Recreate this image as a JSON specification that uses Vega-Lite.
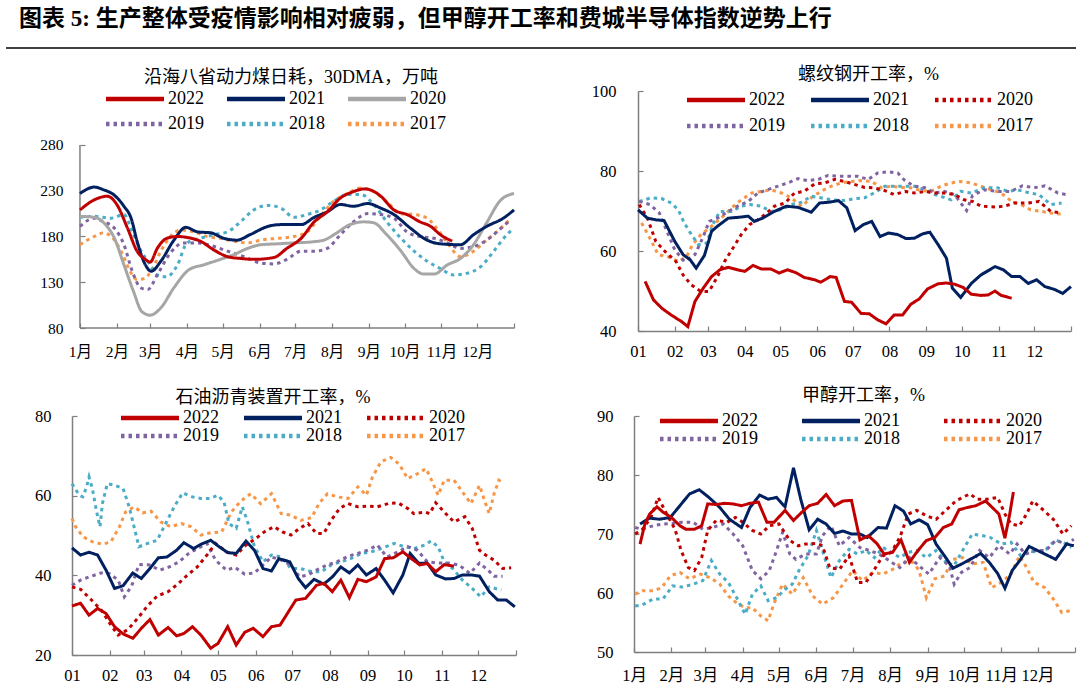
{
"$schema": "https://vega.github.io/schema/vega-lite/v6.json",
"padding": {"left": 5, "right": 5, "top": 8, "bottom": 0},
"background": "white",
"columns": 1,
"align": "none",
"spacing": 17,
"resolve": {"scale": {"color": "independent", "strokeDash": "independent"}, "legend": {"color": "independent", "strokeDash": "independent"}},
"config": {
  "view": {"stroke": null},
  "font": "Liberation Serif, Noto Sans CJK SC",
  "axis": {"grid": false, "domainColor": "#7f7f7f", "tickColor": "#7f7f7f", "labelColor": "#000000", "labelFont": "Liberation Serif, Noto Sans CJK SC", "tickSize": -5, "labelFlush": false, "labelOverlap": false, "labelBound": false, "domainWidth": 1.5, "tickWidth": 1.2},
  "legend": {"padding": 0, "labelFont": "Liberation Serif", "labelFontSize": 18, "labelColor": "#000000", "symbolType": "M-10,0H10", "symbolSize": 33.6, "symbolStrokeWidth": 4.5, "labelOffset": 24, "columns": 3, "orient": "none"},
  "title": {"font": "Liberation Serif, Noto Sans CJK SC", "fontWeight": "normal", "fontSize": 18, "color": "#000000", "frame": "group"}
},
"datasets": {
"coal": [
{"year":"2017","day":0,"v":171},{"year":"2017","day":12,"v":180},{"year":"2017","day":20,"v":184},{"year":"2017","day":29,"v":176},{"year":"2017","day":36,"v":160},{"year":"2017","day":41,"v":145},{"year":"2017","day":48,"v":133},{"year":"2017","day":54,"v":134},{"year":"2017","day":61,"v":145},{"year":"2017","day":68,"v":164},{"year":"2017","day":76,"v":180},{"year":"2017","day":85,"v":187},{"year":"2017","day":96,"v":185},{"year":"2017","day":107,"v":180},{"year":"2017","day":118,"v":178},{"year":"2017","day":129,"v":175},{"year":"2017","day":141,"v":173},{"year":"2017","day":152,"v":176},{"year":"2017","day":166,"v":178},{"year":"2017","day":180,"v":180},{"year":"2017","day":191,"v":185},{"year":"2017","day":202,"v":202},{"year":"2017","day":213,"v":218},{"year":"2017","day":225,"v":227},{"year":"2017","day":236,"v":233},{"year":"2017","day":247,"v":229},{"year":"2017","day":258,"v":218},{"year":"2017","day":270,"v":205},{"year":"2017","day":281,"v":204},{"year":"2017","day":292,"v":200},{"year":"2017","day":300,"v":189},{"year":"2017","day":309,"v":173},{"year":"2017","day":320,"v":158},{"year":"2017","day":331,"v":164},{"year":"2017","day":342,"v":176},{"year":"2017","day":354,"v":189},{"year":"2017","day":361,"v":198},
{"year":"2018","day":0,"v":201},{"year":"2018","day":12,"v":202},{"year":"2018","day":26,"v":200},{"year":"2018","day":37,"v":204},{"year":"2018","day":44,"v":185},{"year":"2018","day":51,"v":165},{"year":"2018","day":58,"v":151},{"year":"2018","day":65,"v":138},{"year":"2018","day":73,"v":136},{"year":"2018","day":82,"v":149},{"year":"2018","day":90,"v":173},{"year":"2018","day":101,"v":178},{"year":"2018","day":113,"v":182},{"year":"2018","day":124,"v":185},{"year":"2018","day":135,"v":196},{"year":"2018","day":146,"v":209},{"year":"2018","day":158,"v":214},{"year":"2018","day":169,"v":211},{"year":"2018","day":180,"v":201},{"year":"2018","day":191,"v":204},{"year":"2018","day":202,"v":209},{"year":"2018","day":213,"v":218},{"year":"2018","day":225,"v":226},{"year":"2018","day":236,"v":226},{"year":"2018","day":247,"v":215},{"year":"2018","day":258,"v":196},{"year":"2018","day":270,"v":178},{"year":"2018","day":281,"v":164},{"year":"2018","day":292,"v":153},{"year":"2018","day":303,"v":145},{"year":"2018","day":314,"v":138},{"year":"2018","day":326,"v":140},{"year":"2018","day":337,"v":147},{"year":"2018","day":348,"v":164},{"year":"2018","day":359,"v":182},{"year":"2018","day":363,"v":187},
{"year":"2019","day":0,"v":191},{"year":"2019","day":12,"v":200},{"year":"2019","day":20,"v":196},{"year":"2019","day":29,"v":189},{"year":"2019","day":37,"v":171},{"year":"2019","day":44,"v":142},{"year":"2019","day":51,"v":124},{"year":"2019","day":57,"v":122},{"year":"2019","day":65,"v":138},{"year":"2019","day":76,"v":162},{"year":"2019","day":87,"v":173},{"year":"2019","day":99,"v":173},{"year":"2019","day":113,"v":169},{"year":"2019","day":124,"v":164},{"year":"2019","day":138,"v":158},{"year":"2019","day":152,"v":151},{"year":"2019","day":163,"v":150},{"year":"2019","day":174,"v":155},{"year":"2019","day":186,"v":164},{"year":"2019","day":197,"v":164},{"year":"2019","day":208,"v":167},{"year":"2019","day":219,"v":182},{"year":"2019","day":230,"v":196},{"year":"2019","day":242,"v":205},{"year":"2019","day":253,"v":204},{"year":"2019","day":264,"v":200},{"year":"2019","day":275,"v":185},{"year":"2019","day":286,"v":180},{"year":"2019","day":298,"v":178},{"year":"2019","day":309,"v":173},{"year":"2019","day":320,"v":167},{"year":"2019","day":331,"v":169},{"year":"2019","day":342,"v":176},{"year":"2019","day":354,"v":189},{"year":"2019","day":362,"v":198},
{"year":"2020","day":0,"v":202},{"year":"2020","day":12,"v":201},{"year":"2020","day":20,"v":195},{"year":"2020","day":29,"v":178},{"year":"2020","day":37,"v":149},{"year":"2020","day":45,"v":120},{"year":"2020","day":52,"v":98},{"year":"2020","day":59,"v":94},{"year":"2020","day":68,"v":102},{"year":"2020","day":79,"v":124},{"year":"2020","day":92,"v":144},{"year":"2020","day":104,"v":149},{"year":"2020","day":118,"v":155},{"year":"2020","day":129,"v":160},{"year":"2020","day":141,"v":167},{"year":"2020","day":152,"v":171},{"year":"2020","day":166,"v":172},{"year":"2020","day":180,"v":173},{"year":"2020","day":194,"v":174},{"year":"2020","day":205,"v":176},{"year":"2020","day":216,"v":184},{"year":"2020","day":227,"v":193},{"year":"2020","day":239,"v":196},{"year":"2020","day":247,"v":195},{"year":"2020","day":258,"v":182},{"year":"2020","day":270,"v":164},{"year":"2020","day":281,"v":145},{"year":"2020","day":289,"v":139},{"year":"2020","day":298,"v":139},{"year":"2020","day":309,"v":149},{"year":"2020","day":320,"v":156},{"year":"2020","day":331,"v":171},{"year":"2020","day":342,"v":195},{"year":"2020","day":354,"v":220},{"year":"2020","day":365,"v":227},
{"year":"2021","day":0,"v":227},{"year":"2021","day":12,"v":234},{"year":"2021","day":20,"v":231},{"year":"2021","day":29,"v":225},{"year":"2021","day":37,"v":213},{"year":"2021","day":43,"v":200},{"year":"2021","day":48,"v":175},{"year":"2021","day":55,"v":149},{"year":"2021","day":60,"v":142},{"year":"2021","day":68,"v":153},{"year":"2021","day":79,"v":176},{"year":"2021","day":89,"v":190},{"year":"2021","day":99,"v":185},{"year":"2021","day":110,"v":184},{"year":"2021","day":121,"v":178},{"year":"2021","day":132,"v":176},{"year":"2021","day":143,"v":182},{"year":"2021","day":158,"v":191},{"year":"2021","day":169,"v":193},{"year":"2021","day":186,"v":193},{"year":"2021","day":197,"v":201},{"year":"2021","day":208,"v":207},{"year":"2021","day":219,"v":215},{"year":"2021","day":230,"v":213},{"year":"2021","day":242,"v":216},{"year":"2021","day":253,"v":211},{"year":"2021","day":264,"v":204},{"year":"2021","day":278,"v":189},{"year":"2021","day":292,"v":176},{"year":"2021","day":303,"v":172},{"year":"2021","day":320,"v":171},{"year":"2021","day":331,"v":182},{"year":"2021","day":342,"v":191},{"year":"2021","day":356,"v":200},{"year":"2021","day":365,"v":209},
{"year":"2022","day":0,"v":209},{"year":"2022","day":12,"v":220},{"year":"2022","day":23,"v":224},{"year":"2022","day":31,"v":215},{"year":"2022","day":40,"v":189},{"year":"2022","day":48,"v":164},{"year":"2022","day":55,"v":155},{"year":"2022","day":59,"v":152},{"year":"2022","day":65,"v":167},{"year":"2022","day":73,"v":178},{"year":"2022","day":82,"v":180},{"year":"2022","day":90,"v":179},{"year":"2022","day":101,"v":175},{"year":"2022","day":113,"v":165},{"year":"2022","day":124,"v":158},{"year":"2022","day":135,"v":156},{"year":"2022","day":146,"v":155},{"year":"2022","day":163,"v":157},{"year":"2022","day":174,"v":167},{"year":"2022","day":186,"v":178},{"year":"2022","day":197,"v":196},{"year":"2022","day":208,"v":207},{"year":"2022","day":219,"v":222},{"year":"2022","day":230,"v":229},{"year":"2022","day":239,"v":232},{"year":"2022","day":244,"v":231},{"year":"2022","day":253,"v":224},{"year":"2022","day":264,"v":209},{"year":"2022","day":275,"v":204},{"year":"2022","day":286,"v":196},{"year":"2022","day":295,"v":191},{"year":"2022","day":303,"v":182},{"year":"2022","day":313,"v":175}
],
"rebar": [
{"year":"2017","day":3,"v":67},{"year":"2017","day":10,"v":63.2},{"year":"2017","day":17,"v":59.1},{"year":"2017","day":25,"v":58.6},{"year":"2017","day":34,"v":57.4},{"year":"2017","day":41,"v":58.6},{"year":"2017","day":46,"v":61.6},{"year":"2017","day":53,"v":64.1},{"year":"2017","day":62,"v":66.2},{"year":"2017","day":70,"v":68.2},{"year":"2017","day":79,"v":70.8},{"year":"2017","day":87,"v":72.8},{"year":"2017","day":96,"v":74.5},{"year":"2017","day":104,"v":74.9},{"year":"2017","day":112,"v":75.3},{"year":"2017","day":121,"v":74.5},{"year":"2017","day":129,"v":73.3},{"year":"2017","day":138,"v":71.2},{"year":"2017","day":146,"v":73.3},{"year":"2017","day":154,"v":74.9},{"year":"2017","day":163,"v":76.2},{"year":"2017","day":171,"v":77},{"year":"2017","day":180,"v":77.4},{"year":"2017","day":188,"v":77.6},{"year":"2017","day":197,"v":77.4},{"year":"2017","day":205,"v":75.8},{"year":"2017","day":213,"v":76.2},{"year":"2017","day":222,"v":75.9},{"year":"2017","day":230,"v":75.8},{"year":"2017","day":239,"v":75.1},{"year":"2017","day":247,"v":74.9},{"year":"2017","day":256,"v":76.3},{"year":"2017","day":264,"v":77},{"year":"2017","day":272,"v":77.4},{"year":"2017","day":281,"v":77},{"year":"2017","day":289,"v":76.2},{"year":"2017","day":298,"v":75.3},{"year":"2017","day":306,"v":74.5},{"year":"2017","day":315,"v":72.4},{"year":"2017","day":323,"v":71.6},{"year":"2017","day":331,"v":70.3},{"year":"2017","day":340,"v":69.9},{"year":"2017","day":348,"v":69.5},{"year":"2017","day":357,"v":69.2},
{"year":"2018","day":1,"v":72.4},{"year":"2018","day":11,"v":73.3},{"year":"2018","day":20,"v":73.1},{"year":"2018","day":28,"v":72},{"year":"2018","day":34,"v":70.3},{"year":"2018","day":39,"v":67},{"year":"2018","day":45,"v":64.1},{"year":"2018","day":51,"v":61.6},{"year":"2018","day":58,"v":62},{"year":"2018","day":63,"v":66.6},{"year":"2018","day":69,"v":69.9},{"year":"2018","day":79,"v":69.9},{"year":"2018","day":87,"v":71.2},{"year":"2018","day":95,"v":71.6},{"year":"2018","day":104,"v":71.2},{"year":"2018","day":112,"v":69.9},{"year":"2018","day":121,"v":70.3},{"year":"2018","day":129,"v":71.6},{"year":"2018","day":138,"v":72.2},{"year":"2018","day":146,"v":73.7},{"year":"2018","day":154,"v":73.3},{"year":"2018","day":163,"v":72.8},{"year":"2018","day":174,"v":72.6},{"year":"2018","day":183,"v":73.1},{"year":"2018","day":191,"v":73.3},{"year":"2018","day":199,"v":74.5},{"year":"2018","day":208,"v":76.2},{"year":"2018","day":216,"v":76.2},{"year":"2018","day":225,"v":76.2},{"year":"2018","day":233,"v":76.2},{"year":"2018","day":242,"v":75.3},{"year":"2018","day":250,"v":74.1},{"year":"2018","day":258,"v":73.4},{"year":"2018","day":264,"v":72.8},{"year":"2018","day":272,"v":74.9},{"year":"2018","day":281,"v":74.5},{"year":"2018","day":292,"v":75.8},{"year":"2018","day":303,"v":75.8},{"year":"2018","day":312,"v":74.9},{"year":"2018","day":320,"v":75.3},{"year":"2018","day":330,"v":74.5},{"year":"2018","day":338,"v":74.1},{"year":"2018","day":348,"v":71.6},{"year":"2018","day":357,"v":72},
{"year":"2019","day":1,"v":72.4},{"year":"2019","day":10,"v":71.6},{"year":"2019","day":18,"v":69.5},{"year":"2019","day":25,"v":64.5},{"year":"2019","day":31,"v":60.3},{"year":"2019","day":39,"v":57.4},{"year":"2019","day":48,"v":59.1},{"year":"2019","day":55,"v":63.6},{"year":"2019","day":60,"v":67.4},{"year":"2019","day":67,"v":68.2},{"year":"2019","day":76,"v":69.9},{"year":"2019","day":84,"v":71.2},{"year":"2019","day":93,"v":72.4},{"year":"2019","day":101,"v":74.5},{"year":"2019","day":109,"v":75.3},{"year":"2019","day":118,"v":76.2},{"year":"2019","day":126,"v":77},{"year":"2019","day":135,"v":78.1},{"year":"2019","day":143,"v":77.6},{"year":"2019","day":152,"v":77.9},{"year":"2019","day":160,"v":78.9},{"year":"2019","day":169,"v":78.7},{"year":"2019","day":177,"v":78.7},{"year":"2019","day":185,"v":78.7},{"year":"2019","day":194,"v":77.9},{"year":"2019","day":202,"v":79.5},{"year":"2019","day":211,"v":79.8},{"year":"2019","day":219,"v":79.5},{"year":"2019","day":225,"v":77.6},{"year":"2019","day":233,"v":76.2},{"year":"2019","day":242,"v":75.8},{"year":"2019","day":250,"v":74.5},{"year":"2019","day":258,"v":74.9},{"year":"2019","day":267,"v":74.1},{"year":"2019","day":272,"v":72},{"year":"2019","day":277,"v":70.1},{"year":"2019","day":282,"v":73.9},{"year":"2019","day":292,"v":75.3},{"year":"2019","day":303,"v":74.9},{"year":"2019","day":314,"v":74.9},{"year":"2019","day":324,"v":76.3},{"year":"2019","day":334,"v":75.8},{"year":"2019","day":343,"v":76.3},{"year":"2019","day":354,"v":74.5},{"year":"2019","day":361,"v":74.1},
{"year":"2020","day":1,"v":71.6},{"year":"2020","day":8,"v":68.2},{"year":"2020","day":15,"v":62.4},{"year":"2020","day":24,"v":59.5},{"year":"2020","day":32,"v":57.4},{"year":"2020","day":38,"v":54},{"year":"2020","day":45,"v":51.5},{"year":"2020","day":53,"v":49.9},{"year":"2020","day":60,"v":49.9},{"year":"2020","day":67,"v":53.6},{"year":"2020","day":73,"v":57.4},{"year":"2020","day":80,"v":60.7},{"year":"2020","day":87,"v":64.1},{"year":"2020","day":94,"v":66.6},{"year":"2020","day":101,"v":67.8},{"year":"2020","day":107,"v":69.1},{"year":"2020","day":115,"v":71.2},{"year":"2020","day":124,"v":72},{"year":"2020","day":132,"v":74.5},{"year":"2020","day":140,"v":74.9},{"year":"2020","day":149,"v":76.8},{"year":"2020","day":157,"v":77},{"year":"2020","day":166,"v":77.9},{"year":"2020","day":174,"v":77.4},{"year":"2020","day":183,"v":76.6},{"year":"2020","day":191,"v":75.9},{"year":"2020","day":199,"v":75.8},{"year":"2020","day":208,"v":75.1},{"year":"2020","day":216,"v":74.1},{"year":"2020","day":225,"v":74.9},{"year":"2020","day":233,"v":74.5},{"year":"2020","day":242,"v":74.9},{"year":"2020","day":250,"v":74.5},{"year":"2020","day":258,"v":74.5},{"year":"2020","day":267,"v":74.1},{"year":"2020","day":275,"v":72.8},{"year":"2020","day":282,"v":72.4},{"year":"2020","day":289,"v":71.2},{"year":"2020","day":301,"v":71},{"year":"2020","day":309,"v":71.2},{"year":"2020","day":317,"v":72},{"year":"2020","day":329,"v":72},{"year":"2020","day":338,"v":72.4},{"year":"2020","day":348,"v":69.9},{"year":"2020","day":357,"v":69.5},
{"year":"2021","day":0,"v":70.3},{"year":"2021","day":8,"v":68.2},{"year":"2021","day":15,"v":67.8},{"year":"2021","day":22,"v":67.6},{"year":"2021","day":31,"v":62.4},{"year":"2021","day":38,"v":59.1},{"year":"2021","day":44,"v":57.8},{"year":"2021","day":49,"v":55.7},{"year":"2021","day":56,"v":58.9},{"year":"2021","day":62,"v":64.9},{"year":"2021","day":67,"v":66.2},{"year":"2021","day":76,"v":68.2},{"year":"2021","day":84,"v":68.4},{"year":"2021","day":93,"v":68.7},{"year":"2021","day":98,"v":67.4},{"year":"2021","day":105,"v":68.2},{"year":"2021","day":115,"v":69.9},{"year":"2021","day":125,"v":71.2},{"year":"2021","day":135,"v":70.9},{"year":"2021","day":146,"v":69.7},{"year":"2021","day":153,"v":72},{"year":"2021","day":161,"v":72.2},{"year":"2021","day":169,"v":72.6},{"year":"2021","day":176,"v":70.8},{"year":"2021","day":183,"v":65.1},{"year":"2021","day":190,"v":66.6},{"year":"2021","day":197,"v":67.4},{"year":"2021","day":204,"v":63.6},{"year":"2021","day":211,"v":64.5},{"year":"2021","day":219,"v":64.1},{"year":"2021","day":226,"v":63.1},{"year":"2021","day":233,"v":63.2},{"year":"2021","day":240,"v":64.3},{"year":"2021","day":246,"v":64.7},{"year":"2021","day":253,"v":61.6},{"year":"2021","day":260,"v":58.2},{"year":"2021","day":265,"v":50.7},{"year":"2021","day":272,"v":48.4},{"year":"2021","day":281,"v":51.9},{"year":"2021","day":289,"v":54},{"year":"2021","day":301,"v":56.1},{"year":"2021","day":308,"v":55.3},{"year":"2021","day":315,"v":53.6},{"year":"2021","day":322,"v":53.6},{"year":"2021","day":329,"v":51.9},{"year":"2021","day":336,"v":52.8},{"year":"2021","day":343,"v":51.1},{"year":"2021","day":351,"v":50.4},{"year":"2021","day":358,"v":49.4},{"year":"2021","day":365,"v":51.1},
{"year":"2022","day":6,"v":52.4},{"year":"2022","day":13,"v":47.8},{"year":"2022","day":20,"v":45.7},{"year":"2022","day":28,"v":44},{"year":"2022","day":37,"v":42.3},{"year":"2022","day":42,"v":41.1},{"year":"2022","day":48,"v":47.4},{"year":"2022","day":55,"v":50.7},{"year":"2022","day":62,"v":53.6},{"year":"2022","day":69,"v":55.3},{"year":"2022","day":76,"v":55.9},{"year":"2022","day":84,"v":55.3},{"year":"2022","day":90,"v":54.9},{"year":"2022","day":97,"v":56.4},{"year":"2022","day":104,"v":55.5},{"year":"2022","day":112,"v":55.5},{"year":"2022","day":119,"v":54.5},{"year":"2022","day":126,"v":55.3},{"year":"2022","day":133,"v":54.6},{"year":"2022","day":140,"v":53.4},{"year":"2022","day":149,"v":52.8},{"year":"2022","day":154,"v":52.2},{"year":"2022","day":162,"v":53.6},{"year":"2022","day":167,"v":53.4},{"year":"2022","day":174,"v":47.4},{"year":"2022","day":180,"v":47.2},{"year":"2022","day":188,"v":44.4},{"year":"2022","day":195,"v":44.3},{"year":"2022","day":202,"v":42.8},{"year":"2022","day":209,"v":41.8},{"year":"2022","day":216,"v":44},{"year":"2022","day":223,"v":44},{"year":"2022","day":230,"v":46.7},{"year":"2022","day":237,"v":48},{"year":"2022","day":244,"v":50.5},{"year":"2022","day":253,"v":51.8},{"year":"2022","day":260,"v":52},{"year":"2022","day":267,"v":51.7},{"year":"2022","day":274,"v":50.9},{"year":"2022","day":281,"v":49.2},{"year":"2022","day":289,"v":48.9},{"year":"2022","day":295,"v":49},{"year":"2022","day":301,"v":50},{"year":"2022","day":306,"v":48.9},{"year":"2022","day":315,"v":48.2}
],
"asphalt": [
{"year":"2017","day":0,"v":54.3},{"year":"2017","day":3,"v":52.2},{"year":"2017","day":9,"v":49.7},{"year":"2017","day":17,"v":48.4},{"year":"2017","day":25,"v":47.8},{"year":"2017","day":32,"v":48.4},{"year":"2017","day":39,"v":52.2},{"year":"2017","day":44,"v":55.9},{"year":"2017","day":51,"v":57.2},{"year":"2017","day":58,"v":55.7},{"year":"2017","day":65,"v":56.1},{"year":"2017","day":73,"v":53.4},{"year":"2017","day":81,"v":52.2},{"year":"2017","day":90,"v":53},{"year":"2017","day":98,"v":52.2},{"year":"2017","day":106,"v":50.1},{"year":"2017","day":114,"v":50.7},{"year":"2017","day":123,"v":50.9},{"year":"2017","day":131,"v":55.9},{"year":"2017","day":139,"v":58.7},{"year":"2017","day":147,"v":60.5},{"year":"2017","day":155,"v":58},{"year":"2017","day":164,"v":60.5},{"year":"2017","day":172,"v":55.5},{"year":"2017","day":180,"v":55.1},{"year":"2017","day":188,"v":53.8},{"year":"2017","day":197,"v":54.5},{"year":"2017","day":203,"v":58},{"year":"2017","day":210,"v":60.5},{"year":"2017","day":218,"v":59.7},{"year":"2017","day":227,"v":59.3},{"year":"2017","day":235,"v":62.2},{"year":"2017","day":242,"v":60.1},{"year":"2017","day":247,"v":64.7},{"year":"2017","day":254,"v":68.5},{"year":"2017","day":262,"v":69.6},{"year":"2017","day":269,"v":67.9},{"year":"2017","day":276,"v":64.3},{"year":"2017","day":284,"v":65.5},{"year":"2017","day":291,"v":66.8},{"year":"2017","day":295,"v":64.3},{"year":"2017","day":301,"v":60.1},{"year":"2017","day":306,"v":63.9},{"year":"2017","day":314,"v":63.9},{"year":"2017","day":321,"v":60.9},{"year":"2017","day":328,"v":58},{"year":"2017","day":335,"v":62.6},{"year":"2017","day":340,"v":58},{"year":"2017","day":343,"v":55.5},{"year":"2017","day":347,"v":60.5},{"year":"2017","day":351,"v":63.9},{"year":"2017","day":355,"v":63},
{"year":"2018","day":0,"v":63},{"year":"2018","day":6,"v":60.1},{"year":"2018","day":9,"v":59.7},{"year":"2018","day":12,"v":62.2},{"year":"2018","day":14,"v":64.7},{"year":"2018","day":17,"v":61.4},{"year":"2018","day":20,"v":56.3},{"year":"2018","day":23,"v":52.2},{"year":"2018","day":25,"v":58},{"year":"2018","day":29,"v":63},{"year":"2018","day":35,"v":62.6},{"year":"2018","day":42,"v":61.8},{"year":"2018","day":47,"v":57.2},{"year":"2018","day":51,"v":52.2},{"year":"2018","day":55,"v":47.2},{"year":"2018","day":62,"v":48},{"year":"2018","day":70,"v":48.8},{"year":"2018","day":77,"v":53},{"year":"2018","day":84,"v":57.2},{"year":"2018","day":91,"v":60.7},{"year":"2018","day":99,"v":59.7},{"year":"2018","day":106,"v":59.3},{"year":"2018","day":113,"v":59.3},{"year":"2018","day":120,"v":60.1},{"year":"2018","day":125,"v":58.4},{"year":"2018","day":129,"v":53},{"year":"2018","day":135,"v":51.8},{"year":"2018","day":140,"v":57.2},{"year":"2018","day":144,"v":53.8},{"year":"2018","day":150,"v":47.2},{"year":"2018","day":157,"v":43.4},{"year":"2018","day":164,"v":45.1},{"year":"2018","day":172,"v":44.6},{"year":"2018","day":180,"v":41.7},{"year":"2018","day":188,"v":41.7},{"year":"2018","day":197,"v":40.9},{"year":"2018","day":205,"v":40.9},{"year":"2018","day":213,"v":42.6},{"year":"2018","day":221,"v":43.4},{"year":"2018","day":229,"v":44.2},{"year":"2018","day":238,"v":45.5},{"year":"2018","day":246,"v":45.9},{"year":"2018","day":254,"v":46.7},{"year":"2018","day":265,"v":48},{"year":"2018","day":273,"v":47.2},{"year":"2018","day":281,"v":46.7},{"year":"2018","day":290,"v":47.6},{"year":"2018","day":295,"v":48.6},{"year":"2018","day":301,"v":47.2},{"year":"2018","day":306,"v":43.4},{"year":"2018","day":313,"v":41.7},{"year":"2018","day":321,"v":38.8},{"year":"2018","day":329,"v":36.7},{"year":"2018","day":336,"v":34.6},{"year":"2018","day":343,"v":37.1},{"year":"2018","day":353,"v":36.3},
{"year":"2019","day":0,"v":37.5},{"year":"2019","day":7,"v":38.8},{"year":"2019","day":16,"v":39.8},{"year":"2019","day":24,"v":40.6},{"year":"2019","day":31,"v":40.4},{"year":"2019","day":38,"v":38.8},{"year":"2019","day":43,"v":34.6},{"year":"2019","day":49,"v":37.3},{"year":"2019","day":55,"v":42.7},{"year":"2019","day":64,"v":42.6},{"year":"2019","day":72,"v":41.3},{"year":"2019","day":80,"v":42.1},{"year":"2019","day":88,"v":43.4},{"year":"2019","day":96,"v":45.5},{"year":"2019","day":103,"v":46.7},{"year":"2019","day":111,"v":48},{"year":"2019","day":118,"v":43.8},{"year":"2019","day":127,"v":41.3},{"year":"2019","day":134,"v":42},{"year":"2019","day":142,"v":40.3},{"year":"2019","day":150,"v":40.6},{"year":"2019","day":157,"v":42.6},{"year":"2019","day":164,"v":44.6},{"year":"2019","day":172,"v":43.8},{"year":"2019","day":180,"v":42.6},{"year":"2019","day":187,"v":39.6},{"year":"2019","day":194,"v":40.1},{"year":"2019","day":202,"v":41.5},{"year":"2019","day":210,"v":42.6},{"year":"2019","day":218,"v":43.4},{"year":"2019","day":227,"v":44.8},{"year":"2019","day":235,"v":45.5},{"year":"2019","day":243,"v":46.3},{"year":"2019","day":251,"v":47.6},{"year":"2019","day":259,"v":44.6},{"year":"2019","day":268,"v":45.9},{"year":"2019","day":276,"v":47.2},{"year":"2019","day":284,"v":46.3},{"year":"2019","day":292,"v":43.4},{"year":"2019","day":300,"v":43.1},{"year":"2019","day":309,"v":43.1},{"year":"2019","day":318,"v":42.6},{"year":"2019","day":327,"v":40.5},{"year":"2019","day":335,"v":43.1},{"year":"2019","day":342,"v":41.3},{"year":"2019","day":347,"v":39.8},{"year":"2019","day":354,"v":39.8},
{"year":"2020","day":0,"v":37.1},{"year":"2020","day":7,"v":36.5},{"year":"2020","day":16,"v":33.8},{"year":"2020","day":24,"v":31.3},{"year":"2020","day":32,"v":27.5},{"year":"2020","day":38,"v":25},{"year":"2020","day":46,"v":26.4},{"year":"2020","day":54,"v":29.2},{"year":"2020","day":62,"v":32.3},{"year":"2020","day":70,"v":34.8},{"year":"2020","day":79,"v":35.9},{"year":"2020","day":87,"v":37.8},{"year":"2020","day":95,"v":40.1},{"year":"2020","day":103,"v":42.1},{"year":"2020","day":112,"v":45.5},{"year":"2020","day":118,"v":48},{"year":"2020","day":127,"v":45.9},{"year":"2020","day":135,"v":45.1},{"year":"2020","day":143,"v":47.6},{"year":"2020","day":151,"v":49.2},{"year":"2020","day":158,"v":50.9},{"year":"2020","day":166,"v":52.2},{"year":"2020","day":173,"v":50.9},{"year":"2020","day":180,"v":50.1},{"year":"2020","day":187,"v":51.8},{"year":"2020","day":194,"v":53},{"year":"2020","day":201,"v":50.5},{"year":"2020","day":207,"v":50.5},{"year":"2020","day":213,"v":53.8},{"year":"2020","day":220,"v":56.8},{"year":"2020","day":227,"v":58},{"year":"2020","day":235,"v":57.2},{"year":"2020","day":243,"v":57.4},{"year":"2020","day":251,"v":57.2},{"year":"2020","day":260,"v":58},{"year":"2020","day":268,"v":58.2},{"year":"2020","day":276,"v":56.8},{"year":"2020","day":281,"v":55.5},{"year":"2020","day":290,"v":55.9},{"year":"2020","day":294,"v":55.5},{"year":"2020","day":299,"v":58.2},{"year":"2020","day":306,"v":55.9},{"year":"2020","day":314,"v":53.4},{"year":"2020","day":323,"v":54.7},{"year":"2020","day":329,"v":51.8},{"year":"2020","day":335,"v":46.3},{"year":"2020","day":340,"v":45.1},{"year":"2020","day":347,"v":43.8},{"year":"2020","day":354,"v":41.7},{"year":"2020","day":361,"v":41.9},
{"year":"2021","day":0,"v":46.9},{"year":"2021","day":7,"v":45.1},{"year":"2021","day":14,"v":45.8},{"year":"2021","day":21,"v":45.1},{"year":"2021","day":28,"v":41.3},{"year":"2021","day":35,"v":36.7},{"year":"2021","day":42,"v":37.4},{"year":"2021","day":50,"v":40.6},{"year":"2021","day":57,"v":39.2},{"year":"2021","day":64,"v":41.7},{"year":"2021","day":71,"v":44.4},{"year":"2021","day":78,"v":44.6},{"year":"2021","day":86,"v":46.3},{"year":"2021","day":92,"v":48.2},{"year":"2021","day":100,"v":46.7},{"year":"2021","day":106,"v":47.8},{"year":"2021","day":114,"v":48.8},{"year":"2021","day":120,"v":47.4},{"year":"2021","day":128,"v":45.7},{"year":"2021","day":135,"v":45.5},{"year":"2021","day":143,"v":48.6},{"year":"2021","day":150,"v":46.3},{"year":"2021","day":157,"v":41.7},{"year":"2021","day":164,"v":41.1},{"year":"2021","day":170,"v":44.2},{"year":"2021","day":179,"v":43.4},{"year":"2021","day":186,"v":39.2},{"year":"2021","day":192,"v":36.9},{"year":"2021","day":199,"v":39},{"year":"2021","day":207,"v":37.8},{"year":"2021","day":214,"v":39.6},{"year":"2021","day":221,"v":42.1},{"year":"2021","day":228,"v":40.6},{"year":"2021","day":235,"v":42.6},{"year":"2021","day":242,"v":40.1},{"year":"2021","day":250,"v":41.7},{"year":"2021","day":257,"v":38.8},{"year":"2021","day":264,"v":35.6},{"year":"2021","day":272,"v":40.1},{"year":"2021","day":278,"v":45.5},{"year":"2021","day":285,"v":43},{"year":"2021","day":292,"v":43.1},{"year":"2021","day":299,"v":40.1},{"year":"2021","day":307,"v":39.1},{"year":"2021","day":314,"v":39.2},{"year":"2021","day":321,"v":40.1},{"year":"2021","day":328,"v":40.1},{"year":"2021","day":335,"v":39.8},{"year":"2021","day":343,"v":35.9},{"year":"2021","day":350,"v":33.8},{"year":"2021","day":357,"v":33.8},{"year":"2021","day":364,"v":32.1},
{"year":"2022","day":0,"v":32.3},{"year":"2022","day":7,"v":33},{"year":"2022","day":14,"v":30},{"year":"2022","day":21,"v":31.7},{"year":"2022","day":28,"v":30.4},{"year":"2022","day":35,"v":27.1},{"year":"2022","day":42,"v":25.3},{"year":"2022","day":50,"v":24.2},{"year":"2022","day":57,"v":26.7},{"year":"2022","day":64,"v":28.9},{"year":"2022","day":71,"v":25},{"year":"2022","day":79,"v":26.9},{"year":"2022","day":86,"v":24.8},{"year":"2022","day":92,"v":25.4},{"year":"2022","day":99,"v":27.1},{"year":"2022","day":106,"v":25},{"year":"2022","day":114,"v":21.7},{"year":"2022","day":120,"v":22.9},{"year":"2022","day":128,"v":27.1},{"year":"2022","day":135,"v":22.5},{"year":"2022","day":142,"v":25.7},{"year":"2022","day":149,"v":26.7},{"year":"2022","day":157,"v":24.6},{"year":"2022","day":164,"v":27.1},{"year":"2022","day":171,"v":27.5},{"year":"2022","day":177,"v":30.4},{"year":"2022","day":184,"v":33.8},{"year":"2022","day":192,"v":34.2},{"year":"2022","day":201,"v":37.5},{"year":"2022","day":207,"v":38},{"year":"2022","day":214,"v":35.9},{"year":"2022","day":221,"v":38.8},{"year":"2022","day":228,"v":34.4},{"year":"2022","day":235,"v":39},{"year":"2022","day":242,"v":38.4},{"year":"2022","day":250,"v":39.6},{"year":"2022","day":257,"v":44.2},{"year":"2022","day":264,"v":44.4},{"year":"2022","day":272,"v":45.9},{"year":"2022","day":279,"v":44.2},{"year":"2022","day":286,"v":42.6},{"year":"2022","day":292,"v":43},{"year":"2022","day":299,"v":40.9},{"year":"2022","day":306,"v":42.7},{"year":"2022","day":314,"v":42.3}
],
"methanol": [
{"year":"2017","day":1,"v":59.8},{"year":"2017","day":7,"v":60.4},{"year":"2017","day":16,"v":60.4},{"year":"2017","day":23,"v":60.9},{"year":"2017","day":30,"v":62.9},{"year":"2017","day":38,"v":63.5},{"year":"2017","day":46,"v":62.4},{"year":"2017","day":55,"v":63.2},{"year":"2017","day":63,"v":62.6},{"year":"2017","day":71,"v":61.5},{"year":"2017","day":78,"v":59.5},{"year":"2017","day":85,"v":58.3},{"year":"2017","day":92,"v":57.5},{"year":"2017","day":98,"v":57.5},{"year":"2017","day":105,"v":56.1},{"year":"2017","day":111,"v":55.3},{"year":"2017","day":116,"v":58.3},{"year":"2017","day":123,"v":61.5},{"year":"2017","day":131,"v":59.8},{"year":"2017","day":140,"v":62.6},{"year":"2017","day":148,"v":59.5},{"year":"2017","day":156,"v":58.1},{"year":"2017","day":165,"v":59.2},{"year":"2017","day":173,"v":61.5},{"year":"2017","day":181,"v":63.8},{"year":"2017","day":189,"v":62.1},{"year":"2017","day":198,"v":63.5},{"year":"2017","day":206,"v":63.2},{"year":"2017","day":214,"v":64},{"year":"2017","day":222,"v":65.2},{"year":"2017","day":231,"v":65.2},{"year":"2017","day":236,"v":63.8},{"year":"2017","day":242,"v":59.2},{"year":"2017","day":249,"v":62.4},{"year":"2017","day":257,"v":62.9},{"year":"2017","day":264,"v":65.7},{"year":"2017","day":272,"v":66},{"year":"2017","day":280,"v":64.9},{"year":"2017","day":289,"v":65.2},{"year":"2017","day":296,"v":60.9},{"year":"2017","day":304,"v":61.8},{"year":"2017","day":312,"v":63.2},{"year":"2017","day":319,"v":66.3},{"year":"2017","day":325,"v":64.3},{"year":"2017","day":331,"v":61.8},{"year":"2017","day":340,"v":60.9},{"year":"2017","day":347,"v":59},{"year":"2017","day":354,"v":56.7},{"year":"2017","day":361,"v":57},{"year":"2017","day":363,"v":57.3},
{"year":"2018","day":1,"v":57.8},{"year":"2018","day":7,"v":58},{"year":"2018","day":16,"v":59},{"year":"2018","day":24,"v":59},{"year":"2018","day":32,"v":61.2},{"year":"2018","day":40,"v":61},{"year":"2018","day":49,"v":61.5},{"year":"2018","day":57,"v":62.1},{"year":"2018","day":64,"v":65.5},{"year":"2018","day":71,"v":63.2},{"year":"2018","day":78,"v":61.8},{"year":"2018","day":85,"v":59.2},{"year":"2018","day":92,"v":56.4},{"year":"2018","day":98,"v":59.8},{"year":"2018","day":105,"v":61.2},{"year":"2018","day":111,"v":58.7},{"year":"2018","day":118,"v":59.2},{"year":"2018","day":125,"v":60.6},{"year":"2018","day":131,"v":61.5},{"year":"2018","day":137,"v":64},{"year":"2018","day":144,"v":66.3},{"year":"2018","day":151,"v":70.6},{"year":"2018","day":156,"v":67.2},{"year":"2018","day":163,"v":62.6},{"year":"2018","day":170,"v":65.5},{"year":"2018","day":178,"v":67.4},{"year":"2018","day":185,"v":66.6},{"year":"2018","day":192,"v":67.2},{"year":"2018","day":199,"v":66},{"year":"2018","day":206,"v":67.7},{"year":"2018","day":213,"v":66.9},{"year":"2018","day":220,"v":66},{"year":"2018","day":227,"v":66.9},{"year":"2018","day":234,"v":67.2},{"year":"2018","day":242,"v":66},{"year":"2018","day":250,"v":67.2},{"year":"2018","day":257,"v":65.5},{"year":"2018","day":264,"v":64.3},{"year":"2018","day":272,"v":67.2},{"year":"2018","day":280,"v":70},{"year":"2018","day":289,"v":69.7},{"year":"2018","day":295,"v":69.4},{"year":"2018","day":304,"v":68.3},{"year":"2018","day":312,"v":68.6},{"year":"2018","day":320,"v":66.3},{"year":"2018","day":326,"v":67.2},{"year":"2018","day":333,"v":66.9},{"year":"2018","day":341,"v":67.4},{"year":"2018","day":349,"v":69},{"year":"2018","day":358,"v":68.3},{"year":"2018","day":362,"v":67.7},
{"year":"2019","day":1,"v":71.1},{"year":"2019","day":7,"v":70.8},{"year":"2019","day":16,"v":71.4},{"year":"2019","day":24,"v":71.7},{"year":"2019","day":32,"v":71.8},{"year":"2019","day":40,"v":72},{"year":"2019","day":49,"v":72},{"year":"2019","day":57,"v":70.8},{"year":"2019","day":65,"v":71.1},{"year":"2019","day":74,"v":71.7},{"year":"2019","day":82,"v":70},{"year":"2019","day":90,"v":68},{"year":"2019","day":98,"v":63.8},{"year":"2019","day":105,"v":62.4},{"year":"2019","day":112,"v":63.8},{"year":"2019","day":118,"v":67.2},{"year":"2019","day":123,"v":70.3},{"year":"2019","day":129,"v":66.6},{"year":"2019","day":134,"v":65.7},{"year":"2019","day":142,"v":66.6},{"year":"2019","day":151,"v":66.6},{"year":"2019","day":156,"v":69.7},{"year":"2019","day":163,"v":71.4},{"year":"2019","day":170,"v":68},{"year":"2019","day":178,"v":69.4},{"year":"2019","day":187,"v":67.7},{"year":"2019","day":195,"v":67.2},{"year":"2019","day":203,"v":66.6},{"year":"2019","day":211,"v":65.5},{"year":"2019","day":220,"v":64.3},{"year":"2019","day":228,"v":66},{"year":"2019","day":236,"v":64.6},{"year":"2019","day":244,"v":63.2},{"year":"2019","day":253,"v":66},{"year":"2019","day":261,"v":64.6},{"year":"2019","day":265,"v":61.5},{"year":"2019","day":271,"v":63.5},{"year":"2019","day":278,"v":64.3},{"year":"2019","day":286,"v":67.2},{"year":"2019","day":294,"v":66},{"year":"2019","day":302,"v":68},{"year":"2019","day":311,"v":66.6},{"year":"2019","day":317,"v":68.3},{"year":"2019","day":324,"v":66.6},{"year":"2019","day":333,"v":67.2},{"year":"2019","day":341,"v":67.2},{"year":"2019","day":349,"v":68.9},{"year":"2019","day":358,"v":68.3},{"year":"2019","day":364,"v":69.1},
{"year":"2020","day":1,"v":70},{"year":"2020","day":7,"v":70.8},{"year":"2020","day":14,"v":72.8},{"year":"2020","day":20,"v":76.2},{"year":"2020","day":27,"v":73.4},{"year":"2020","day":34,"v":70.8},{"year":"2020","day":39,"v":67.2},{"year":"2020","day":45,"v":64.3},{"year":"2020","day":50,"v":63.8},{"year":"2020","day":56,"v":66},{"year":"2020","day":61,"v":70.6},{"year":"2020","day":68,"v":72.3},{"year":"2020","day":77,"v":72},{"year":"2020","day":84,"v":72.8},{"year":"2020","day":90,"v":72},{"year":"2020","day":98,"v":70.6},{"year":"2020","day":105,"v":70},{"year":"2020","day":112,"v":71.4},{"year":"2020","day":120,"v":71.7},{"year":"2020","day":129,"v":68.9},{"year":"2020","day":136,"v":68},{"year":"2020","day":142,"v":68.3},{"year":"2020","day":151,"v":68.4},{"year":"2020","day":156,"v":68},{"year":"2020","day":162,"v":64.3},{"year":"2020","day":170,"v":64},{"year":"2020","day":178,"v":66.3},{"year":"2020","day":185,"v":61.8},{"year":"2020","day":192,"v":61.8},{"year":"2020","day":199,"v":64},{"year":"2020","day":206,"v":66.3},{"year":"2020","day":213,"v":66.9},{"year":"2020","day":220,"v":69.4},{"year":"2020","day":227,"v":73.4},{"year":"2020","day":234,"v":74},{"year":"2020","day":242,"v":73.1},{"year":"2020","day":250,"v":72.5},{"year":"2020","day":258,"v":74},{"year":"2020","day":267,"v":75.7},{"year":"2020","day":278,"v":76.8},{"year":"2020","day":284,"v":75.9},{"year":"2020","day":292,"v":75.9},{"year":"2020","day":301,"v":76.2},{"year":"2020","day":307,"v":73.4},{"year":"2020","day":312,"v":71.7},{"year":"2020","day":319,"v":71.4},{"year":"2020","day":325,"v":73.4},{"year":"2020","day":330,"v":75.6},{"year":"2020","day":338,"v":74.2},{"year":"2020","day":347,"v":72.5},{"year":"2020","day":355,"v":70},{"year":"2020","day":362,"v":71.4},
{"year":"2021","day":5,"v":71.7},{"year":"2021","day":13,"v":72.7},{"year":"2021","day":21,"v":72.5},{"year":"2021","day":30,"v":72.8},{"year":"2021","day":38,"v":74.8},{"year":"2021","day":46,"v":76.8},{"year":"2021","day":54,"v":77.5},{"year":"2021","day":62,"v":76.2},{"year":"2021","day":71,"v":74.5},{"year":"2021","day":79,"v":72.5},{"year":"2021","day":89,"v":71.1},{"year":"2021","day":96,"v":74.5},{"year":"2021","day":104,"v":76.6},{"year":"2021","day":111,"v":75.9},{"year":"2021","day":118,"v":76.2},{"year":"2021","day":125,"v":74.6},{"year":"2021","day":132,"v":81.2},{"year":"2021","day":138,"v":75.9},{"year":"2021","day":145,"v":70.7},{"year":"2021","day":152,"v":72.5},{"year":"2021","day":159,"v":71.7},{"year":"2021","day":166,"v":70.1},{"year":"2021","day":173,"v":70.5},{"year":"2021","day":180,"v":70},{"year":"2021","day":187,"v":70},{"year":"2021","day":193,"v":69.4},{"year":"2021","day":202,"v":71.1},{"year":"2021","day":209,"v":71},{"year":"2021","day":216,"v":74.8},{"year":"2021","day":223,"v":73.9},{"year":"2021","day":229,"v":71.7},{"year":"2021","day":236,"v":72.4},{"year":"2021","day":243,"v":71.6},{"year":"2021","day":250,"v":68.3},{"year":"2021","day":257,"v":66.3},{"year":"2021","day":264,"v":64.2},{"year":"2021","day":272,"v":65},{"year":"2021","day":280,"v":65.9},{"year":"2021","day":287,"v":66.7},{"year":"2021","day":294,"v":65.2},{"year":"2021","day":301,"v":63.3},{"year":"2021","day":307,"v":60.8},{"year":"2021","day":313,"v":63.8},{"year":"2021","day":320,"v":65.7},{"year":"2021","day":327,"v":67.9},{"year":"2021","day":334,"v":67.2},{"year":"2021","day":341,"v":66.5},{"year":"2021","day":349,"v":65.7},{"year":"2021","day":358,"v":68.3},{"year":"2021","day":364,"v":68},
{"year":"2022","day":5,"v":68.3},{"year":"2022","day":9,"v":71.7},{"year":"2022","day":13,"v":73.4},{"year":"2022","day":19,"v":74.6},{"year":"2022","day":24,"v":73.7},{"year":"2022","day":31,"v":72.8},{"year":"2022","day":38,"v":71.4},{"year":"2022","day":43,"v":70.8},{"year":"2022","day":50,"v":70.8},{"year":"2022","day":56,"v":71.4},{"year":"2022","day":61,"v":75.1},{"year":"2022","day":68,"v":75},{"year":"2022","day":75,"v":75.2},{"year":"2022","day":82,"v":75.1},{"year":"2022","day":89,"v":74.8},{"year":"2022","day":96,"v":75.2},{"year":"2022","day":103,"v":75.4},{"year":"2022","day":110,"v":72},{"year":"2022","day":116,"v":72},{"year":"2022","day":125,"v":74},{"year":"2022","day":132,"v":72.3},{"year":"2022","day":139,"v":73.7},{"year":"2022","day":145,"v":74.8},{"year":"2022","day":152,"v":75.2},{"year":"2022","day":159,"v":76.7},{"year":"2022","day":166,"v":74.8},{"year":"2022","day":173,"v":75.6},{"year":"2022","day":180,"v":75.7},{"year":"2022","day":187,"v":69},{"year":"2022","day":194,"v":69.7},{"year":"2022","day":201,"v":68.4},{"year":"2022","day":207,"v":66.6},{"year":"2022","day":214,"v":66.9},{"year":"2022","day":221,"v":69},{"year":"2022","day":228,"v":65.2},{"year":"2022","day":235,"v":67.2},{"year":"2022","day":242,"v":68.9},{"year":"2022","day":249,"v":69.4},{"year":"2022","day":256,"v":71.1},{"year":"2022","day":263,"v":71.7},{"year":"2022","day":269,"v":74.1},{"year":"2022","day":276,"v":74.5},{"year":"2022","day":283,"v":74.8},{"year":"2022","day":291,"v":75.6},{"year":"2022","day":298,"v":74.2},{"year":"2022","day":302,"v":73.4},{"year":"2022","day":307,"v":69.3},{"year":"2022","day":311,"v":73.4},{"year":"2022","day":314,"v":77.1}
]
},
"concat": [
{
  "width": 1070, "height": 1,
  "title": {"text": "图表 5: 生产整体受疫情影响相对疲弱，但甲醇开工率和费城半导体指数逆势上行", "anchor": "start", "frame": "group", "fontSize": 23, "fontWeight": "bold", "font": "Liberation Serif, Noto Sans CJK SC", "offset": 16, "dx": 13},
  "data": {"values": [{"y": 1}]},
  "mark": {"type": "rule", "color": "#000000", "strokeWidth": 1.5},
  "encoding": {"y": {"field": "y", "type": "quantitative", "scale": {"domain": [0, 1]}, "axis": null}}
},
{
  "spacing": 0,
  "resolve": {"scale": {"color": "independent", "strokeDash": "independent"}, "legend": {"color": "independent", "strokeDash": "independent"}},
  "hconcat": [
  {
    "width": 1, "height": 1,
    "data": {"values": [{"a": 0}]},
    "mark": {"type": "rule", "opacity": 0},
    "encoding": {"y": {"field": "a", "type": "quantitative", "axis": null}}
  },
  {
  "spacing": 27,
  "resolve": {"scale": {"color": "independent", "strokeDash": "independent"}, "legend": {"color": "independent", "strokeDash": "independent"}},
  "vconcat": [
  {
    "spacing": 58,
    "resolve": {"scale": {"color": "independent", "strokeDash": "independent"}, "legend": {"color": "independent", "strokeDash": "independent"}},
    "hconcat": [
    {
      "width": 442, "height": 237,
      "title": {"text": "沿海八省动力煤日耗，30DMA，万吨", "offset": 3, "dx": -2},
      "layer": [
        {
          "data": {"values": [{"k": 1}]},
          "mark": {"type": "rule", "color": "#7f7f7f", "strokeWidth": 1.5},
          "encoding": {
            "x": {"datum": 0, "type": "quantitative", "axis": {"title": null, "domain": false, "labelOverlap": false, "values": [0,31,59,90,120,151,181,212,243,273,304,334,365], "labelExpr": "datum.value >= 365 ? '' : ['1月','2月','3月','4月','5月','6月','7月','8月','9月','10月','11月','12月'][indexof([0,31,59,90,120,151,181,212,243,273,304,334], datum.value)]", "labelFontSize": 15.5, "labelPadding": 21}},
            "y": {"datum": 80, "type": "quantitative", "axis": {"title": null, "domain": false, "labelOverlap": false, "offset": -8, "values": [80,130,180,230,280], "labelFontSize": 15.5, "labelPadding": 22, "minExtent": 65}},
            "y2": {"datum": 280}
          }
        },
        {
          "data": {"values": [{"k": 1}]},
          "mark": {"type": "rule", "color": "#7f7f7f", "strokeWidth": 1.5},
          "encoding": {
            "y": {"datum": 80, "type": "quantitative", "axis": {"title": null, "domain": false, "labelOverlap": false, "offset": -8, "values": [80,130,180,230,280], "labelFontSize": 15.5, "labelPadding": 22, "minExtent": 65}},
            "x": {"datum": 0, "type": "quantitative", "axis": {"title": null, "domain": false, "labelOverlap": false, "values": [0,31,59,90,120,151,181,212,243,273,304,334,365], "labelExpr": "datum.value >= 365 ? '' : ['1月','2月','3月','4月','5月','6月','7月','8月','9月','10月','11月','12月'][indexof([0,31,59,90,120,151,181,212,243,273,304,334], datum.value)]", "labelFontSize": 15.5, "labelPadding": 21}},
            "x2": {"datum": 365}
          }
        },
        {
          "data": {"name": "coal"},
          "mark": {"type": "line", "strokeWidth": 3, "interpolate": "monotone"},
          "encoding": {
            "x": {"field": "day", "type": "quantitative", "scale": {"domain": [-6.7, 365], "nice": false, "zero": false}, "axis": {"title": null, "domain": false, "labelOverlap": false, "values": [0,31,59,90,120,151,181,212,243,273,304,334,365], "labelExpr": "datum.value >= 365 ? '' : ['1月','2月','3月','4月','5月','6月','7月','8月','9月','10月','11月','12月'][indexof([0,31,59,90,120,151,181,212,243,273,304,334], datum.value)]", "labelFontSize": 15.5, "labelPadding": 21}},
            "y": {"field": "v", "type": "quantitative", "scale": {"domain": [80, 339], "nice": false, "zero": false}, "axis": {"title": null, "domain": false, "labelOverlap": false, "offset": -8, "values": [80,130,180,230,280], "labelFontSize": 15.5, "labelPadding": 22, "minExtent": 65}},
            "color": {"field": "year", "type": "nominal", "scale": {"domain": ["2022","2019","2021","2018","2020","2017"], "range": ["#C00000","#8064A2","#002060","#4BACC6","#A6A6A6","#F79646"]}, "legend": {"title": null, "orient": "none", "legendX": 54, "legendY": -1, "columns": 3, "columnPadding": 14, "rowPadding": 7}},
            "strokeDash": {"field": "year", "type": "nominal", "scale": {"domain": ["2022","2019","2021","2018","2020","2017"], "range": [[1,0],[3.5,4],[1,0],[3.5,4],[1,0],[3.5,4]]}, "legend": {"title": null, "orient": "none", "legendX": 54, "legendY": -1, "columns": 3, "columnPadding": 14, "rowPadding": 7}}
          }
        }
      ]
    },
    {
      "width": 433, "height": 240,
      "title": {"text": "螺纹钢开工率，%", "offset": -1, "dx": 14},
      "data": {"name": "rebar"},
      "mark": {"type": "line", "strokeWidth": 3},
      "encoding": {
        "x": {"field": "day", "type": "quantitative", "scale": {"domain": [0, 365], "nice": false, "zero": false}, "axis": {"title": null, "values": [0,31,59,90,120,151,181,212,243,273,304,334,365], "labelExpr": "datum.value >= 365 ? '' : ['01','02','03','04','05','06','07','08','09','10','11','12'][indexof([0,31,59,90,120,151,181,212,243,273,304,334], datum.value)]", "labelFontSize": 16.5, "labelPadding": 17}},
        "y": {"field": "v", "type": "quantitative", "scale": {"domain": [40, 100], "nice": false, "zero": false}, "axis": {"title": null, "values": [40,60,80,100], "labelFontSize": 16.5, "labelPadding": 27, "minExtent": 60}},
        "color": {"field": "year", "type": "nominal", "scale": {"domain": ["2022","2019","2021","2018","2020","2017"], "range": ["#C00000","#8064A2","#002060","#4BACC6","#C00000","#F79646"]}, "legend": {"title": null, "orient": "none", "legendX": 69, "legendY": 0, "columns": 3, "columnPadding": 17, "rowPadding": 8}},
        "strokeDash": {"field": "year", "type": "nominal", "scale": {"domain": ["2022","2019","2021","2018","2020","2017"], "range": [[1,0],[3.5,4],[1,0],[3.5,4],[3.5,4],[3.5,4]]}, "legend": {"title": null, "orient": "none", "legendX": 69, "legendY": 0, "columns": 3, "columnPadding": 17, "rowPadding": 8}}
      }
    }
    ]
  },
  {
    "spacing": 58,
    "resolve": {"scale": {"color": "independent", "strokeDash": "independent"}, "legend": {"color": "independent", "strokeDash": "independent"}},
    "hconcat": [
    {
      "width": 444, "height": 239,
      "title": {"text": "石油沥青装置开工率，%", "offset": 1, "dx": -21},
      "data": {"name": "asphalt"},
      "mark": {"type": "line", "strokeWidth": 3},
      "encoding": {
        "x": {"field": "day", "type": "quantitative", "scale": {"domain": [0, 365], "nice": false, "zero": false}, "axis": {"title": null, "values": [0,31,59,90,120,151,181,212,243,273,304,334,365], "labelExpr": "datum.value >= 365 ? '' : ['01','02','03','04','05','06','07','08','09','10','11','12'][indexof([0,31,59,90,120,151,181,212,243,273,304,334], datum.value)]", "labelFontSize": 16.5, "labelPadding": 17}},
        "y": {"field": "v", "type": "quantitative", "scale": {"domain": [20, 80], "nice": false, "zero": false}, "axis": {"title": null, "values": [20,40,60,80], "labelFontSize": 16.5, "labelPadding": 26, "minExtent": 65}},
        "color": {"field": "year", "type": "nominal", "scale": {"domain": ["2022","2019","2021","2018","2020","2017"], "range": ["#C00000","#8064A2","#002060","#4BACC6","#C00000","#F79646"]}, "legend": {"title": null, "orient": "none", "legendX": 69, "legendY": -7, "columns": 3, "columnPadding": 16, "rowPadding": 0}},
        "strokeDash": {"field": "year", "type": "nominal", "scale": {"domain": ["2022","2019","2021","2018","2020","2017"], "range": [[1,0],[3.5,4],[1,0],[3.5,4],[3.5,4],[3.5,4]]}, "legend": {"title": null, "orient": "none", "legendX": 69, "legendY": -7, "columns": 3, "columnPadding": 16, "rowPadding": 0}}
      }
    },
    {
      "width": 441, "height": 236,
      "title": {"text": "甲醇开工率，%", "offset": 3, "dx": 9},
      "data": {"name": "methanol"},
      "mark": {"type": "line", "strokeWidth": 3},
      "encoding": {
        "x": {"field": "day", "type": "quantitative", "scale": {"domain": [0, 365], "nice": false, "zero": false}, "axis": {"title": null, "values": [0,31,59,90,120,151,181,212,243,273,304,334,365], "labelExpr": "datum.value >= 365 ? '' : ['1月','2月','3月','4月','5月','6月','7月','8月','9月','10月','11月','12月'][indexof([0,31,59,90,120,151,181,212,243,273,304,334], datum.value)]", "labelFontSize": 16.5, "labelPadding": 20}},
        "y": {"field": "v", "type": "quantitative", "scale": {"domain": [50, 90], "nice": false, "zero": false}, "axis": {"title": null, "values": [50,60,70,80,90], "labelFontSize": 16.5, "labelPadding": 26, "minExtent": 55}},
        "color": {"field": "year", "type": "nominal", "scale": {"domain": ["2022","2019","2021","2018","2020","2017"], "range": ["#C00000","#8064A2","#002060","#4BACC6","#C00000","#F79646"]}, "legend": {"title": null, "orient": "none", "legendX": 46, "legendY": -4, "columns": 3, "columnPadding": 35, "rowPadding": -0.5}},
        "strokeDash": {"field": "year", "type": "nominal", "scale": {"domain": ["2022","2019","2021","2018","2020","2017"], "range": [[1,0],[3.5,4],[1,0],[3.5,4],[3.5,4],[3.5,4]]}, "legend": {"title": null, "orient": "none", "legendX": 46, "legendY": -4, "columns": 3, "columnPadding": 35, "rowPadding": -0.5}}
      }
    }
    ]
  }
  ]
  }
  ]
}
]
}
